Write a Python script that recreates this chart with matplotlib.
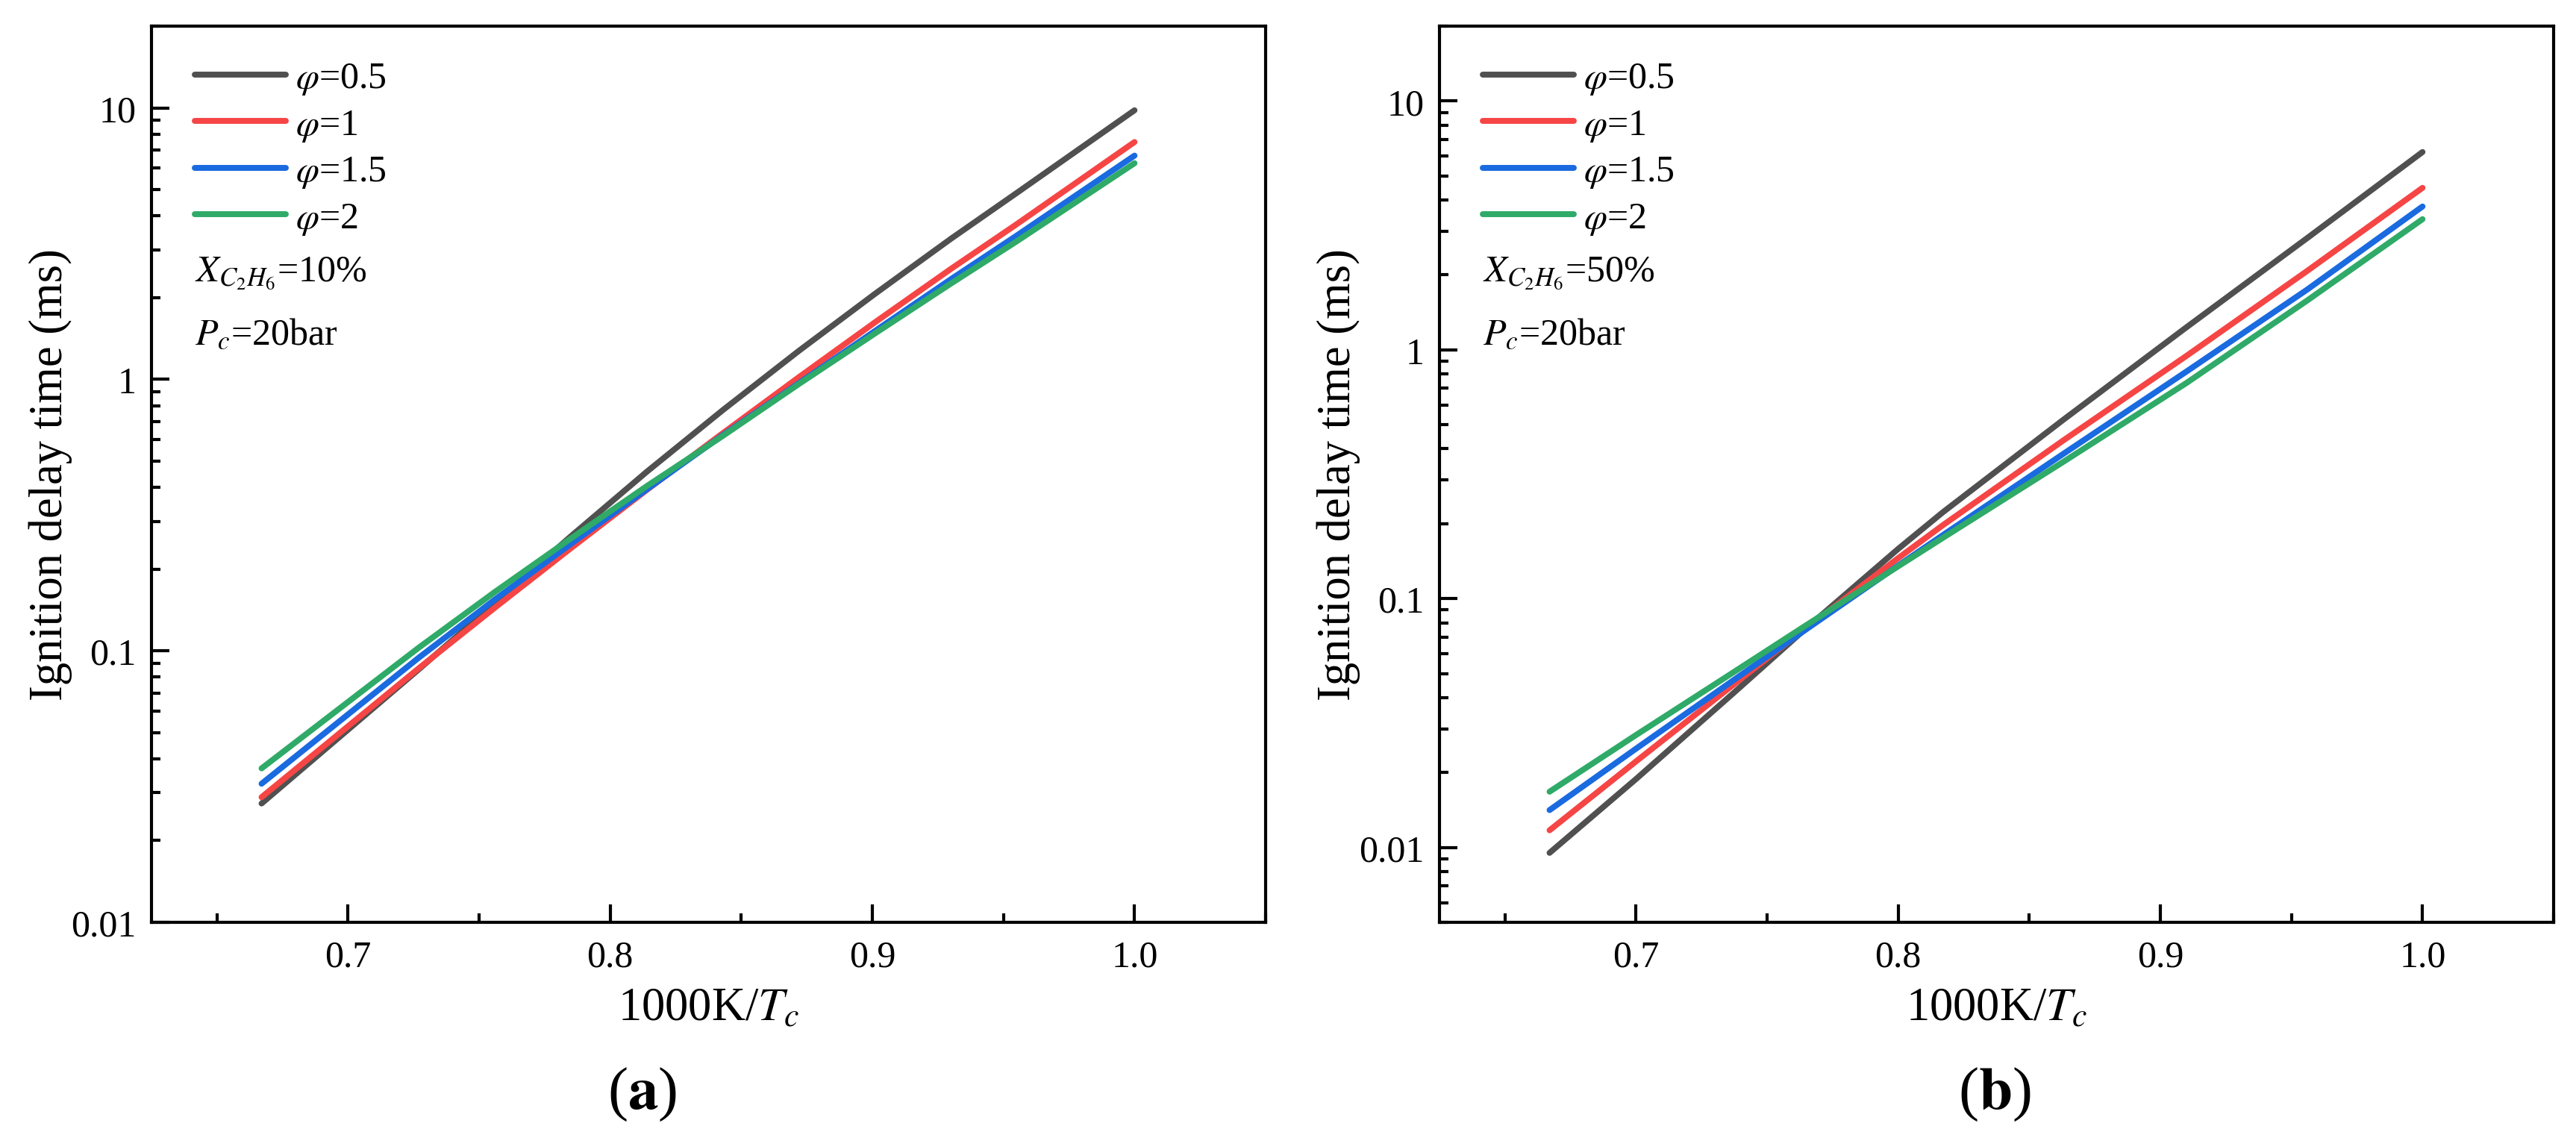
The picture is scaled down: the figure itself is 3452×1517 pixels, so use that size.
import numpy as np
import matplotlib
matplotlib.use('Agg')
import matplotlib.pyplot as plt
from matplotlib import rcParams
from matplotlib.ticker import FixedLocator, LogLocator, MultipleLocator, FuncFormatter, NullFormatter

# Times-like look
rcParams['font.family'] = 'Liberation Serif'
rcParams['mathtext.fontset'] = 'stix'
rcParams['font.size'] = 12

# 1000K/Tc sample points
x_a = [0.667, 0.727, 0.756, 0.785, 0.814, 0.843, 0.872, 0.901, 0.930, 0.955, 1.0]
x_b = [0.667, 0.700, 0.737, 0.764, 0.800, 0.817, 0.863, 0.910, 0.956, 1.0]

# ignition delay times (ms), panel (a): X_C2H6 = 10%
idt_a_05 = [0.0274, 0.0855, 0.150, 0.2642, 0.4571, 0.7709, 1.274, 2.065, 3.296, 4.853, 9.795]
idt_a_1 = [0.0289, 0.0863, 0.1442, 0.2388, 0.3917, 0.6339, 1.019, 1.622, 2.553, 3.724, 7.482]
idt_a_15 = [0.0324, 0.0944, 0.1545, 0.2477, 0.3936, 0.6237, 0.9683, 1.507, 2.339, 3.381, 6.668]
idt_a_2 = [0.0369, 0.1028, 0.1648, 0.2594, 0.4046, 0.6194, 0.9616, 1.476, 2.254, 3.221, 6.252]

# panel (b): X_C2H6 = 50%
idt_b_05 = [0.00951, 0.01884, 0.04159, 0.07464, 0.1585, 0.2223, 0.5236, 1.233, 2.812, 6.237]
idt_b_1 = [0.01172, 0.02218, 0.04498, 0.07499, 0.1455, 0.1972, 0.4325, 0.9462, 2.075, 4.477]
idt_b_15 = [0.01413, 0.02495, 0.04688, 0.07413, 0.1358, 0.1799, 0.3819, 0.8185, 1.746, 3.767]
idt_b_2 = [0.01675, 0.02831, 0.05047, 0.07709, 0.1349, 0.1754, 0.3548, 0.7362, 1.578, 3.350]

labels = [r'$\varphi$=0.5', r'$\varphi$=1', r'$\varphi$=1.5', r'$\varphi$=2']
colors = ['#505050', '#F64545', '#1A6AE0', '#2FAA68']

panels = [
    (x_a, [idt_a_05, idt_a_1, idt_a_15, idt_a_2], (0.01, 20), '10%', 'a'),
    (x_b, [idt_b_05, idt_b_1, idt_b_15, idt_b_2], (0.005, 20), '50%', 'b'),
]

fig = plt.figure(figsize=(3452 / 300, 1518 / 300), dpi=300)
lefts = [0.0588, 0.5588]
tag_x = [0.2494, 0.7743]

for left, tx, (xs, series, ylim, frac, tag) in zip(lefts, tag_x, panels):
    ax = fig.add_axes([left, 0.1851, 0.4325, 0.7912])
    for ys, lab, col in zip(series, labels, colors):
        ax.plot(xs, ys, color=col, lw=1.9, label=lab, solid_capstyle='round')

    ax.set_yscale('log')
    ax.set_xlim(0.625, 1.05)
    ax.set_ylim(*ylim)

    ax.xaxis.set_major_locator(FixedLocator([0.7, 0.8, 0.9, 1.0]))
    ax.xaxis.set_minor_locator(MultipleLocator(0.05))
    ax.xaxis.set_major_formatter(FuncFormatter(lambda v, p: '%.1f' % v))
    ax.yaxis.set_major_locator(LogLocator(base=10, numticks=10))
    ax.yaxis.set_minor_locator(LogLocator(base=10, subs=np.arange(2, 10), numticks=20))
    ax.yaxis.set_major_formatter(FuncFormatter(lambda v, p: '%g' % v))
    ax.yaxis.set_minor_formatter(NullFormatter())

    ax.tick_params(which='both', direction='in', top=False, right=False, width=1.0)
    ax.tick_params(which='major', length=5.8, labelsize=12)
    ax.tick_params(axis='x', which='major', pad=5.5)
    ax.tick_params(axis='y', which='major', pad=5)
    ax.tick_params(which='minor', length=2.8)
    for sp in ax.spines.values():
        sp.set_linewidth(1.0)

    ax.set_xlabel('1000K/$T_c$', fontsize=15)
    ax.set_ylabel('Ignition delay time (ms)', fontsize=15)
    ax.xaxis.set_label_coords(0.5, -0.072)
    ax.yaxis.set_label_coords(-0.071, 0.5)

    ax.legend(loc='upper left', bbox_to_anchor=(0.0388, 0.961), frameon=False,
              fontsize=12, handlelength=2.45, handletextpad=0.25,
              labelspacing=0.30, borderaxespad=0.0, borderpad=0.0)
    ax.text(0.039, 0.716, r'$X_{C_2H_6}$=' + frac, transform=ax.transAxes,
            fontsize=12, va='baseline', ha='left')
    ax.text(0.039, 0.646, r'$P_c$=20bar', transform=ax.transAxes,
            fontsize=12, va='baseline', ha='left')

    fig.text(tx, 0.0336, '(' + r'$\mathbf{' + tag + '}$' + ')',
             fontsize=19.5, ha='center', va='center')

fig.savefig('out.png', dpi=300)
